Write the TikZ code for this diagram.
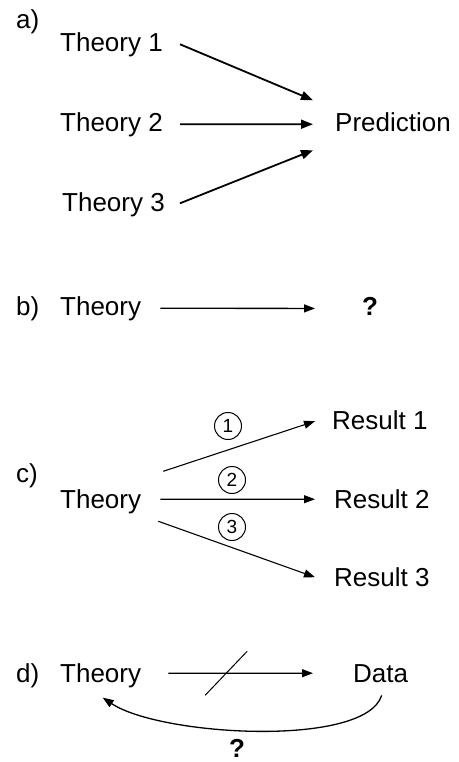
\documentclass[tikz,border=0pt]{standalone}
\usepackage{fontspec}
\setmainfont{Liberation Sans}
\usetikzlibrary{arrows.meta,calc}
\begin{document}
\begin{tikzpicture}[x=1pt,y=-1pt,
  txt/.style={inner sep=0pt,anchor=base west,font=\fontsize{26}{30}\selectfont},
  arrA/.style={line width=1.8pt,-{Triangle[length=12pt,width=9pt]}},
  arrB/.style={line width=1.3pt,-{Triangle[length=11pt,width=8pt]}},
  num/.style={circle,draw,line width=1pt,minimum size=27pt,inner sep=0pt,font=\fontsize{19}{21}\selectfont}]
\useasboundingbox (0,0) rectangle (458,762);
% a)
\node[txt] (la) at (16,29) {a)};
\node[txt] (t1) at (60,52) {Theory 1};
\node[txt] (t2) at (60,132) {Theory 2};
\node[txt] (t3) at (62,211) {Theory 3};
\node[txt] (pred) at (335,132) {Prediction};
\draw[arrA] ($(t1.east)+(17,-1)$) -- ($(pred.west)+(-22,-22.5)$);
\draw[arrA] ($(t2.east)+(17,-1)$) -- ($(pred.west)+(-22,1.5)$);
\draw[arrA] ($(t3.east)+(15,-1)$) -- ($(pred.west)+(-22,27.5)$);
% b)
\node[txt] (lb) at (16,315) {b)};
\node[txt] (tb) at (60,315) {Theory};
\node[txt] (qb) at (362,315) {\textbf{?}};
\draw[arrB] ($(tb.east)+(19,0)$) -- ($(qb.west)+(-47,2.5)$);
% c)
\node[txt] (lc) at (16,482) {c)};
\node[txt] (tc) at (60,508) {Theory};
\node[txt] (r1) at (332,429) {Result 1};
\node[txt] (r2) at (334,508) {Result 2};
\node[txt] (r3) at (334,586) {Result 3};
\draw[arrB,line width=1.1pt] ($(tc.east)+(22,-30)$) -- ($(r1.west)+(-17,1.5)$);
\draw[arrB,line width=1.1pt] ($(tc.east)+(19,-2)$) -- ($(r2.west)+(-19,0.5)$);
\draw[arrB,line width=1.1pt] ($(tc.east)+(17,20)$) -- ($(r3.west)+(-19,0.5)$);
\node[num] (n1) at (228,426) {1};
\node[num] (n2) at (232,480) {2};
\node[num] (n3) at (232,527) {3};
% d)
\node[txt] (ld) at (16,682) {d)};
\node[txt] (td) at (60,682) {Theory};
\node[txt] (data) at (353,682) {Data};
\draw[arrB] ($(td.east)+(27,-2)$) -- coordinate[pos=0.4] (mid) ($(data.west)+(-40,0)$);
\draw[line width=1pt] ($(mid)+(-21,22)$) -- ($(mid)+(21,-22)$);
\draw[arrB] ($(data.south)+(1,13)$) .. controls (365,748) and (160,736) .. ($(td.south)+(2,10)$);
\node[txt,anchor=base] (qd) at (237,757) {\textbf{?}};
\end{tikzpicture}
\end{document}
